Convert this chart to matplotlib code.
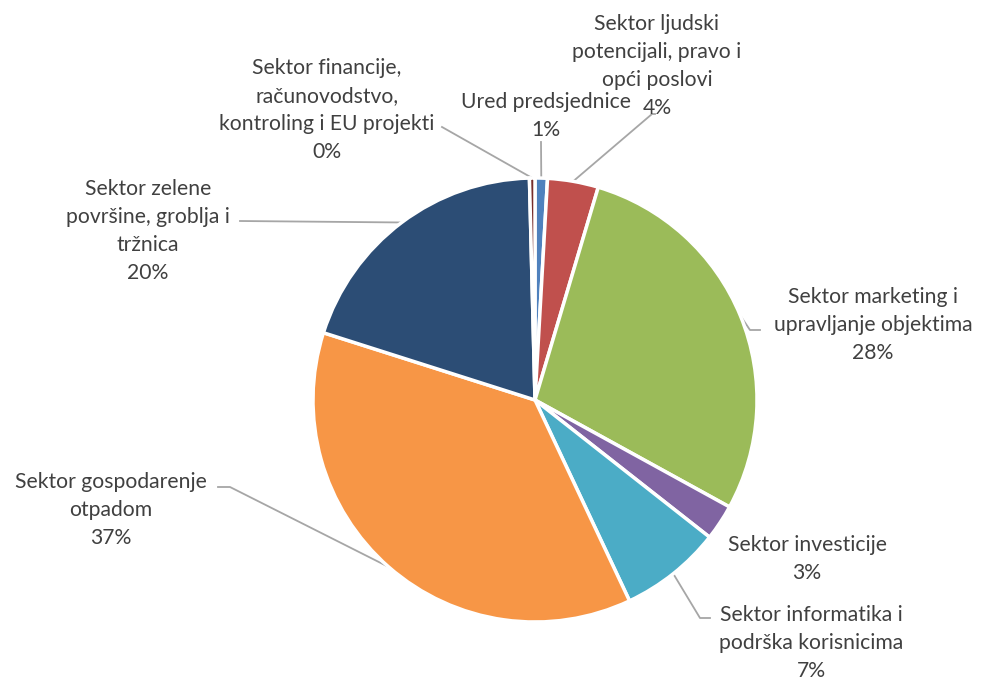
import matplotlib.pyplot as plt
import numpy as np

# slices, clockwise starting at 12 o'clock
labels = ['Ured predsjednice', 'Sektor ljudski\npotencijali, pravo i\nopći poslovi',
          'Sektor marketing i\nupravljanje objektima', 'Sektor investicije',
          'Sektor informatika i\npodrška korisnicima', 'Sektor gospodarenje\notpadom',
          'Sektor zelene\npovršine, groblja i\ntržnica',
          'Sektor financije,\nračunovodstvo,\nkontroling i EU projekti']
shares = [0.9, 3.7, 28.4, 2.6, 7.4, 36.9, 19.7, 0.4]
pct_labels = ['1%', '4%', '28%', '3%', '7%', '37%', '20%', '0%']
colors = ['#4F81BD', '#C0504D', '#9BBB59', '#8064A2', '#4BACC6', '#F79646', '#2C4D75', '#772C2A']

W, H = 983, 681
fig = plt.figure(figsize=(W / 100, H / 100), dpi=100)
ax = fig.add_axes([0, 0, 1, 1])
ax.set_aspect('equal')

cx, cy, r = 535, H - 400, 222
wedges, _ = ax.pie(shares, colors=colors, startangle=90, counterclock=False,
                   center=(cx, cy), radius=r, frame=True,
                   wedgeprops=dict(edgecolor='white', linewidth=2.5))
ax.set_xlim(0, W)
ax.set_ylim(0, H)
ax.axis('off')

# label placement (pixel coords, y from top) and leader line elbows
label_pos = [(546, 116), (657, 66), (873, 325), (807, 559), (811, 643), (111, 510), (148, 231), (327, 110)]
elbows = [[(541, 142)], [(652, 114), (655, 114)], [(750, 330), (760, 330)], None,
          [(700, 618), (710, 618)], [(230, 487), (218, 487)], [(240, 221)], [(442, 127)]]

text_kw = dict(fontsize=15.2, color='#404040', family=['Lato', 'DejaVu Sans'],
               ha='center', va='center', linespacing=1.48)
for w, lab, pct, pos, elb in zip(wedges, labels, pct_labels, label_pos, elbows):
    ax.text(pos[0], H - pos[1], lab + '\n' + pct, **text_kw)
    if elb is None:
        continue
    mid = np.deg2rad((w.theta1 + w.theta2) / 2)
    px, py = cx + r * np.cos(mid), cy + r * np.sin(mid)
    xs = [px] + [e[0] for e in elb]
    ys = [py] + [H - e[1] for e in elb]
    ax.plot(xs, ys, color='#A6A6A6', linewidth=1.3, zorder=0)

fig.savefig('out.png', dpi=100)
